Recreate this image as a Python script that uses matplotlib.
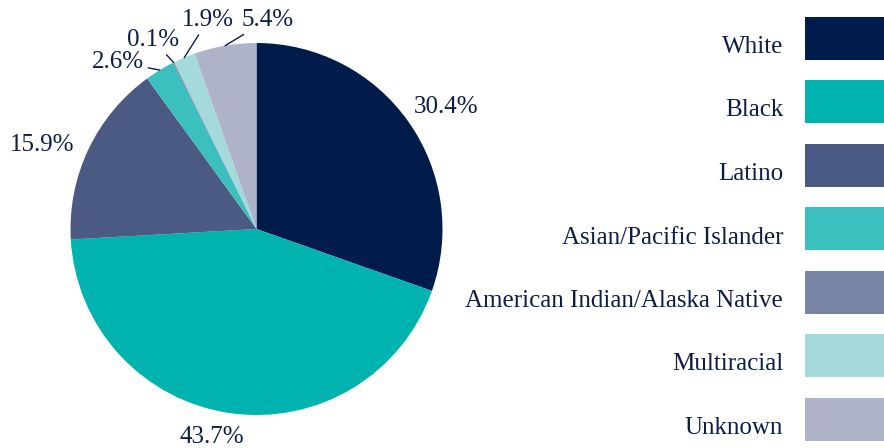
import numpy as np
import matplotlib
matplotlib.use("Agg")
import matplotlib.pyplot as plt
from matplotlib.patches import Rectangle

categories = ["White", "Black", "Latino", "Asian/Pacific Islander",
              "American Indian/Alaska Native", "Multiracial", "Unknown"]
shares = [30.4, 43.7, 15.9, 2.6, 0.1, 1.9, 5.4]
colors = ["#011b4a", "#00b3af", "#4b5a82", "#3bbfbf", "#7884a3", "#a4dada", "#aeb3ca"]
labels = ["30.4%", "43.7%", "15.9%", "2.6%", "0.1%", "1.9%", "5.4%"]
# label text positions (pie data units) and whether a leader line is drawn
label_pos = [(1.02, 0.656), (-0.24, -1.12), (-1.153, 0.452), (-0.745, 0.898),
             (-0.557, 1.016), (-0.26, 1.124), (0.06, 1.124)]
leader = [False, False, False, True, True, True, True]

txt_color = "#0f1d45"
plt.rcParams["font.family"] = ["Liberation Serif", "DejaVu Serif"]
fs = 18

W, H = 884, 448
fig = plt.figure(figsize=(W / 100, H / 100), dpi=100)

cx, cy, r = 256.5, 229, 186
ax = fig.add_axes([(cx - r) / W, (H - cy - r) / H, 2 * r / W, 2 * r / H])
wedges, _ = ax.pie(shares, colors=colors, startangle=90, counterclock=False,
                   radius=1, wedgeprops=dict(linewidth=0))
ax.set_xlim(-1, 1)
ax.set_ylim(-1, 1)
ax.axis("off")

for w, lab, pos, ld in zip(wedges, labels, label_pos, leader):
    mid = np.deg2rad((w.theta1 + w.theta2) / 2)
    if ld:
        ax.annotate(lab, xy=(np.cos(mid), np.sin(mid)), xytext=pos,
                    ha="center", va="center", fontsize=fs, color=txt_color,
                    annotation_clip=False,
                    arrowprops=dict(arrowstyle="-", color=txt_color, lw=1,
                                    shrinkA=1, shrinkB=0))
    else:
        ax.text(pos[0], pos[1], lab, ha="center", va="center", fontsize=fs,
                color=txt_color, clip_on=False)

# legend
lax = fig.add_axes([0, 0, 1, 1])
lax.set_xlim(0, W)
lax.set_ylim(H, 0)
lax.axis("off")
for i, (cat, c) in enumerate(zip(categories, colors)):
    y0 = 17 + i * 63.5
    lax.add_patch(Rectangle((805, y0), 79, 43, color=c, lw=0))
    lax.text(783, y0 + 36, cat, ha="right", va="baseline", fontsize=fs, color=txt_color)

fig.savefig("out.png", dpi=100)
